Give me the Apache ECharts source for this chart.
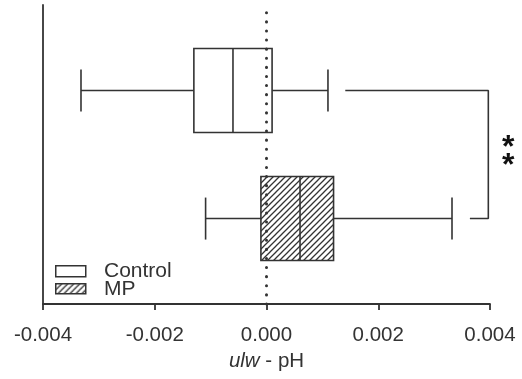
<!DOCTYPE html>
<html>
<head>
<meta charset="utf-8">
<script src="https://cdn.jsdelivr.net/npm/echarts@6/dist/echarts.min.js"></script>
<style>
  html, body { margin: 0; padding: 0; background: #fff; }
  #chart { width: 522px; height: 379px; }
</style>
</head>
<body>
<div id="chart"></div>
<script>
// Box statistics per group: [min, Q1, median, Q3, max]
const groups = ['Control', 'MP'];
const controlStats = [-0.00332, -0.0013, -0.0006, 0.0001, 0.0011];
const mpStats = [-0.00109, -0.0001, 0.0006, 0.0012, 0.00332];
// Row of each group on the hidden vertical value axis
const groupRows = [2.5, 1];
// Significance bracket between the two groups
const bracketPath = [[0.00141, 2.5], [0.00397, 2.5], [0.00397, 1], [0.00364, 1]];
const significance = '**';
const xTicks = [-0.004, -0.002, 0, 0.002, 0.004];

const INK = '#333';
const FONT = "'Liberation Sans', Arial, sans-serif";

// Diagonal hatch tile for the MP box
function hatchTile() {
  const s = 6;
  const c = document.createElement('canvas');
  c.width = s; c.height = s;
  const g = c.getContext('2d');
  g.fillStyle = '#fff';
  g.fillRect(0, 0, s, s);
  g.strokeStyle = INK;
  g.lineWidth = 1.3;
  g.beginPath();
  g.moveTo(0, s); g.lineTo(s, 0);
  g.moveTo(-1, 1); g.lineTo(1, -1);
  g.moveTo(s - 1, s + 1); g.lineTo(s + 1, s - 1);
  g.stroke();
  return c;
}
const hatch = { image: hatchTile(), repeat: 'repeat' };

// Horizontal box-and-whisker glyph
function renderBox(fill) {
  return function (params, api) {
    const row = api.value(0);
    const px = i => api.coord([api.value(i), row])[0];
    const y = api.coord([0, row])[1];
    const w0 = px(1), q1 = px(2), md = px(3), q3 = px(4), w1 = px(5);
    const hb = 42, hc = 21;
    const ln = { stroke: INK, lineWidth: 1.6, fill: null };
    return {
      type: 'group',
      children: [
        { type: 'line', shape: { x1: w0, y1: y, x2: q1, y2: y }, style: ln },
        { type: 'line', shape: { x1: q3, y1: y, x2: w1, y2: y }, style: ln },
        { type: 'line', shape: { x1: w0, y1: y - hc, x2: w0, y2: y + hc }, style: ln },
        { type: 'line', shape: { x1: w1, y1: y - hc, x2: w1, y2: y + hc }, style: ln },
        { type: 'rect', shape: { x: q1, y: y - hb, width: q3 - q1, height: 2 * hb },
          style: { fill: fill, stroke: INK, lineWidth: 1.6 } },
        { type: 'line', shape: { x1: md, y1: y - hb, x2: md, y2: y + hb }, style: ln }
      ]
    };
  };
}

const chart = echarts.init(document.getElementById('chart'), null, { renderer: 'canvas' });

chart.setOption({
  animation: false,
  backgroundColor: '#fff',
  grid: { left: 43, right: 32, top: 5, bottom: 75 },
  xAxis: {
    type: 'value',
    min: xTicks[0],
    max: xTicks[xTicks.length - 1],
    interval: xTicks[1] - xTicks[0],
    axisLine: { onZero: false, lineStyle: { color: INK, width: 1.8 } },
    axisTick: { length: 6, lineStyle: { color: INK, width: 1.8 } },
    splitLine: { show: false },
    axisLabel: {
      margin: 21,
      color: INK,
      fontFamily: FONT,
      fontSize: 20.5,
      formatter: v => v.toFixed(3)
    },
    name: '{i|ulw} - pH',
    nameLocation: 'middle',
    nameGap: 43,
    nameTextStyle: {
      color: INK, fontFamily: FONT, fontSize: 20.5,
      rich: { i: { fontStyle: 'italic', color: INK, fontFamily: FONT, fontSize: 20.5 } }
    }
  },
  yAxis: {
    type: 'value',
    min: 0,
    max: 3.5,
    axisLine: { show: true, onZero: false, lineStyle: { color: INK, width: 1.8 } },
    axisTick: { show: false },
    axisLabel: { show: false },
    splitLine: { show: false }
  },
  series: [
    {
      name: groups[0],
      type: 'custom',
      renderItem: renderBox('#fff'),
      encode: { x: [1, 2, 3, 4, 5], y: 0 },
      data: [[groupRows[0]].concat(controlStats)],
      z: 2
    },
    {
      name: groups[1],
      type: 'custom',
      renderItem: renderBox(hatch),
      encode: { x: [1, 2, 3, 4, 5], y: 0 },
      data: [[groupRows[1]].concat(mpStats)],
      z: 2
    },
    {
      // zero reference line
      type: 'line',
      data: [[0, 0], [0, 3.5]],
      symbol: 'none',
      lineStyle: { color: INK, width: 3, type: [0.1, 9], cap: 'round' },
      z: 4
    },
    {
      type: 'line',
      data: bracketPath,
      symbol: 'none',
      lineStyle: { color: INK, width: 1.6 },
      z: 3
    },
    {
      type: 'custom',
      renderItem: function (params, api) {
        const p = api.coord([api.value(0), api.value(1)]);
        const marks = significance.split('');
        return {
          type: 'group',
          children: marks.map((m, k) => ({
            type: 'text',
            x: p[0] + 20,
            y: p[1] - 6 + k * 18,
            style: {
              text: m, fill: '#111', font: "bold 32px " + FONT,
              align: 'center', verticalAlign: 'middle'
            }
          }))
        };
      },
      encode: { x: 0, y: 1 },
      data: [[bracketPath[1][0], (bracketPath[1][1] + bracketPath[2][1]) / 2]],
      z: 3
    }
  ],
  graphic: [
    { type: 'rect', left: 55, top: 265, shape: { width: 30, height: 11 },
      style: { fill: '#fff', stroke: INK, lineWidth: 1.5 } },
    { type: 'rect', left: 55, top: 283, shape: { width: 30, height: 10 },
      style: { fill: hatch, stroke: INK, lineWidth: 1.5 } },
    { type: 'text', left: 104, top: 261, style: { text: groups[0], fill: INK, font: "21px " + FONT } },
    { type: 'text', left: 104, top: 279, style: { text: groups[1], fill: INK, font: "21px " + FONT } }
  ]
});
</script>
</body>
</html>
